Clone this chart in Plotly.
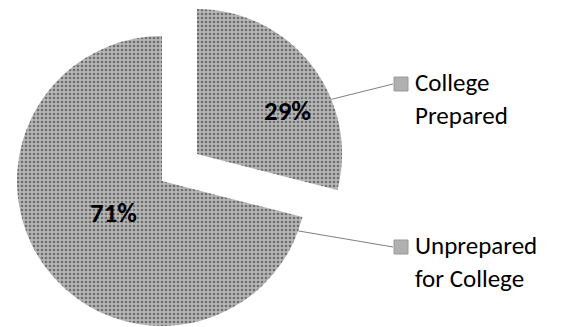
import numpy as np
import plotly.graph_objects as go

categories = ["College Prepared", "Unprepared for College"]
label_lines = [["College", "Prepared"], ["Unprepared", "for College"]]
values = [29, 71]

W, H = 563, 327
R = 145
main_c = (162, 181)     # centre of the main pie (px, from top-left)
pulled_c = (197, 154)   # centre of the pulled-out slice

GREY = "#a8a8a8"
FONT = "Carlito, Lato, sans-serif"

def domain(c):
    cx, cy = c
    return dict(x=[(cx - R) / W, (cx + R) / W],
                y=[(H - cy - R) / H, (H - cy + R) / H])

pattern = dict(shape=".", size=4, solidity=0.35, fillmode="replace")

fig = go.Figure()
# main pie: only the 71% slice visible
fig.add_trace(go.Pie(
    labels=categories, values=values, sort=False, direction="clockwise", rotation=0,
    domain=domain(main_c), textinfo="none", hoverinfo="label+percent",
    marker=dict(colors=["rgba(0,0,0,0)", GREY], line=dict(width=0),
                pattern=dict(pattern, fgcolor=["rgba(0,0,0,0)", "#6e6e6e"], bgcolor=["rgba(0,0,0,0)", "#b6b6b6"])),
    showlegend=False))
# pulled slice: only the 29% slice visible
fig.add_trace(go.Pie(
    labels=categories, values=values, sort=False, direction="clockwise", rotation=0,
    domain=domain(pulled_c), textinfo="none", hoverinfo="label+percent",
    marker=dict(colors=[GREY, "rgba(0,0,0,0)"], line=dict(width=0),
                pattern=dict(pattern, fgcolor=["#6e6e6e", "rgba(0,0,0,0)"], bgcolor=["#b6b6b6", "rgba(0,0,0,0)"])),
    showlegend=False))

total = sum(values)
pct = [f"{round(v / total * 100)}%" for v in values]

# percentage labels
pct_pos = [(287, 111), (88, 212)]
annotations = []
for p, (x, y) in zip(pct, pct_pos):
    annotations.append(dict(x=x / W, y=1 - y / H, xref="paper", yref="paper", text=p,
                            showarrow=False, font=dict(family=FONT, size=27, color="#000", weight=900)))

# leader lines, markers and category labels
cum = np.cumsum([0] + values) / total * 2 * np.pi
centres = [pulled_c, main_c]
anchor_ang = [cum[0] + 0.65 * (cum[1] - cum[0]), cum[1] + 0.1]   # where each leader starts on the arc
label_y = [84, 247]
shapes = []
for i, name in enumerate(categories):
    ang = anchor_ang[i]
    cx, cy = centres[i]
    sx, sy = cx + R * np.sin(ang), cy - R * np.cos(ang)
    ly = label_y[i]
    shapes.append(dict(type="line", xref="paper", yref="paper",
                       x0=sx / W, y0=1 - sy / H, x1=393 / W, y1=1 - ly / H,
                       line=dict(color="#808080", width=1)))
    shapes.append(dict(type="rect", xref="paper", yref="paper",
                       x0=394 / W, x1=408 / W, y0=1 - (ly + 7) / H, y1=1 - (ly - 7) / H,
                       fillcolor="#b0b0b0", line=dict(color="#999999", width=1)))
    annotations.append(dict(x=413 / W, y=1 - (ly - 19) / H, xref="paper", yref="paper",
                            xanchor="left", yanchor="top", align="left",
                            text="<br>".join(label_lines[i]), showarrow=False,
                            font=dict(family=FONT, size=25, color="#000")))

fig.update_layout(width=W, height=H, margin=dict(l=0, r=0, t=0, b=0),
                  paper_bgcolor="white", plot_bgcolor="white",
                  shapes=shapes, annotations=annotations)
fig.write_html("out.html")
